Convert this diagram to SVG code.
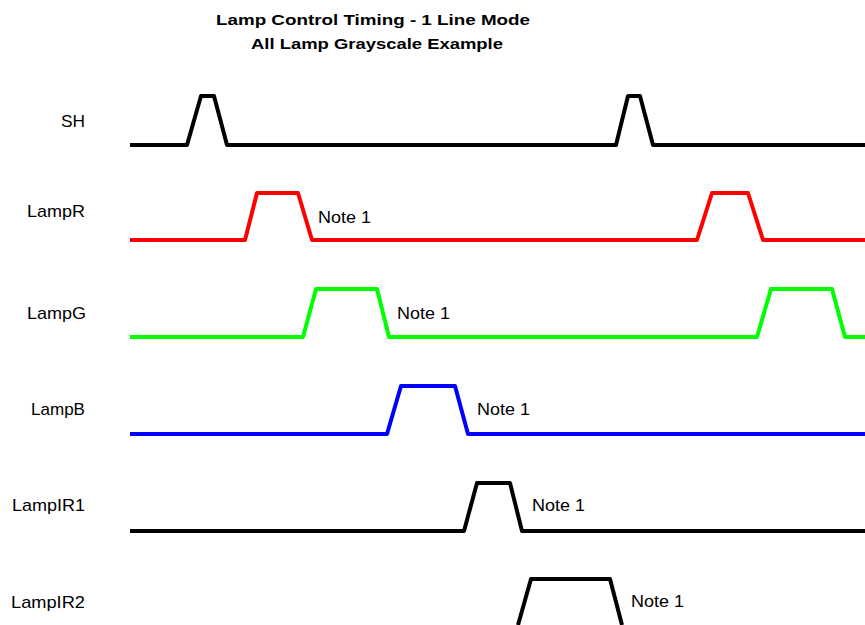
<svg xmlns="http://www.w3.org/2000/svg" width="865" height="625" viewBox="0 0 865 625">
<style>
.t{font-family:"Liberation Sans",Arial,sans-serif;font-size:17px;fill:#000}
.h{font-family:"Liberation Sans",Arial,sans-serif;font-size:15px;font-weight:bold;fill:#000;text-anchor:middle}
.lbl{text-anchor:end}
.w{fill:none;stroke-width:4;stroke-linejoin:round;stroke-linecap:butt}
</style>
<rect width="865" height="625" fill="#fff"/>
<g id="title">
<text class="h" x="373" y="25" textLength="314" lengthAdjust="spacingAndGlyphs">Lamp Control Timing - 1 Line Mode</text>
<text class="h" x="377" y="49" textLength="252" lengthAdjust="spacingAndGlyphs">All Lamp Grayscale Example</text>
</g>
<g id="labels">
<text class="t lbl" x="85" y="127" textLength="24" lengthAdjust="spacingAndGlyphs">SH</text>
<text class="t lbl" x="85" y="217" textLength="58" lengthAdjust="spacingAndGlyphs">LampR</text>
<text class="t lbl" x="86" y="319" textLength="59" lengthAdjust="spacingAndGlyphs">LampG</text>
<text class="t lbl" x="85" y="415" textLength="54" lengthAdjust="spacingAndGlyphs">LampB</text>
<text class="t lbl" x="85" y="511" textLength="73" lengthAdjust="spacingAndGlyphs">LampIR1</text>
<text class="t lbl" x="85" y="608" textLength="74" lengthAdjust="spacingAndGlyphs">LampIR2</text>
</g>
<g id="connectors">
<polyline id="SH" class="w" stroke="#000" points="130,145 187,145 201,96 214,96 227,145 616,145 628,96 640,96 653,145 865,145"/>
<polyline id="LampR" class="w" stroke="#FF0000" points="130,240 245,240 257,193 298,193 312,240 697,240 712,193 748,193 763,240 865,240"/>
<polyline id="LampG" class="w" stroke="#00FF00" points="130,337 303,337 316,289 377,289 389,337 757,337 771,289 832,289 845,337 865,337"/>
<polyline id="LampB" class="w" stroke="#0000FF" points="130,434 387,434 401,386 455,386 468,434 865,434"/>
<polyline id="LampIR1" class="w" stroke="#000" points="130,531 464,531 477,483 510,483 522,531 865,531"/>
<polyline id="LampIR2" class="w" stroke="#000" points="518,625 531,579 610,579 622,625"/>
</g>
<g id="notes">
<text class="t" x="318" y="223" textLength="53" lengthAdjust="spacingAndGlyphs">Note 1</text>
<text class="t" x="397" y="319" textLength="53" lengthAdjust="spacingAndGlyphs">Note 1</text>
<text class="t" x="477" y="415" textLength="53" lengthAdjust="spacingAndGlyphs">Note 1</text>
<text class="t" x="532" y="511" textLength="53" lengthAdjust="spacingAndGlyphs">Note 1</text>
<text class="t" x="631" y="607" textLength="53" lengthAdjust="spacingAndGlyphs">Note 1</text>
</g>
</svg>
